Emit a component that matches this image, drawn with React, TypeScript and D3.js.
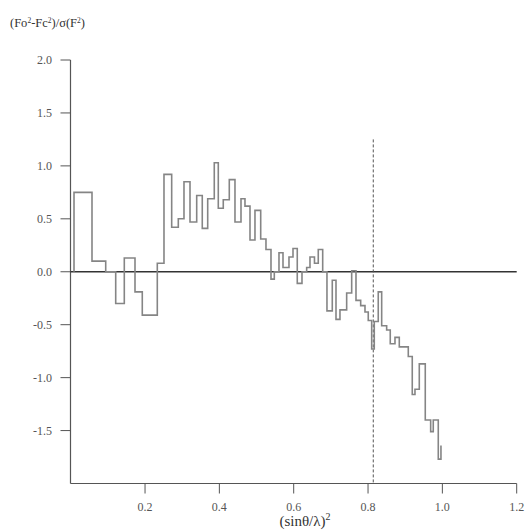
import React from "react";
import * as d3 from "d3";

// bin start positions (sinθ/λ)^2 and step values
const binStart = [
  0.0089, 0.0573, 0.0942, 0.1211, 0.1442, 0.1730, 0.1926, 0.2330, 0.2510, 0.2717,
  0.2895, 0.3048, 0.3210, 0.3390, 0.3540, 0.3686, 0.3863, 0.3971, 0.4105, 0.4267,
  0.4420, 0.4582, 0.4689, 0.4824, 0.4958, 0.5112, 0.5254, 0.5389, 0.5478, 0.5604,
  0.5712, 0.5873, 0.5981, 0.6096, 0.6223, 0.6349, 0.6438, 0.6559, 0.6661, 0.6780,
  0.6895, 0.7038, 0.7138, 0.7245, 0.7425, 0.7560, 0.7676, 0.7802, 0.7918, 0.8006,
  0.8098, 0.8168, 0.8275, 0.8367, 0.8501, 0.8598, 0.8725, 0.8841, 0.9083, 0.9190,
  0.9263, 0.9379, 0.9540, 0.9685, 0.9755, 0.9890,
];
const binValue = [
  0.75, 0.10, 0.00, -0.30, 0.13, -0.19, -0.41, 0.08, 0.92, 0.42,
  0.50, 0.85, 0.47, 0.72, 0.41, 0.69, 1.03, 0.60, 0.68, 0.87,
  0.47, 0.69, 0.62, 0.30, 0.58, 0.31, 0.21, -0.07, 0.00, 0.18,
  0.04, 0.14, 0.22, -0.11, 0.00, 0.04, 0.14, 0.08, 0.21, 0.00,
  -0.37, -0.08, -0.45, -0.36, -0.20, 0.01, -0.27, -0.32, -0.38, -0.46,
  -0.73, -0.47, -0.19, -0.51, -0.55, -0.68, -0.62, -0.71, -0.80, -1.16,
  -1.11, -0.87, -1.40, -1.51, -1.40, -1.77,
];
const lastEdge = 0.9962;
const lastValue = -1.64;
const cutoff = 0.8141;
const cutoffTop = 1.25;

const xTicks = [0.2, 0.4, 0.6, 0.8, 1.0, 1.2];
const yTicks = [2.0, 1.5, 1.0, 0.5, 0.0, -0.5, -1.0, -1.5];

export default function App() {
  const W = 525, H = 531;
  const x = d3.scaleLinear().domain([0, 1.2]).range([70.7, 516.7]);
  const y = d3.scaleLinear().domain([-2, 2]).range([483.5, 60]);

  const pts: [number, number][] = [[binStart[0], 0]];
  binStart.forEach((s, i) => pts.push([s, binValue[i]]));
  pts.push([lastEdge, lastValue]);
  const line = d3
    .line<[number, number]>()
    .x((d) => x(d[0]))
    .y((d) => y(d[1]))
    .curve(d3.curveStepAfter);

  const axisColor = "#555";
  const font = "'Liberation Serif', 'Times New Roman', serif";
  const axisX0 = 70.5;
  const axisY0 = y(-2);

  return (
    <svg
      width={W}
      height={H}
      style={{ position: "absolute", left: 0, top: 0, background: "#fff" }}
      fontFamily={font}
    >
      <rect width={W} height={H} fill="#fff" />
      {/* y title */}
      <text x={10} y={27} fontSize={12.5} fill="#333">
        (Fo<tspan dy={-4} fontSize={7.5}>2</tspan>
        <tspan dy={4}>-Fc</tspan>
        <tspan dy={-4} fontSize={7.5}>2</tspan>
        <tspan dy={4}>)/σ(F</tspan>
        <tspan dy={-4} fontSize={7.5}>2</tspan>
        <tspan dy={4}>)</tspan>
      </text>

      {/* y axis */}
      <line x1={axisX0} x2={axisX0} y1={y(2)} y2={axisY0} stroke={axisColor} strokeWidth={1.2} />
      {yTicks.map((t) => (
        <g key={"y" + t}>
          <line x1={axisX0 - 10} x2={axisX0} y1={y(t)} y2={y(t)} stroke={axisColor} strokeWidth={1} />
          <text x={52} y={y(t)} dy="0.35em" textAnchor="end" fontSize={12} fill="#555">
            {t.toFixed(1)}
          </text>
        </g>
      ))}

      {/* x axis */}
      <line x1={axisX0} x2={x(1.2)} y1={axisY0} y2={axisY0} stroke={axisColor} strokeWidth={1.2} />
      {xTicks.map((t) => (
        <g key={"x" + t}>
          <line x1={x(t)} x2={x(t)} y1={axisY0} y2={axisY0 + 10} stroke={axisColor} strokeWidth={1} />
          <text x={x(t)} y={511} textAnchor="middle" fontSize={12} fill="#555">
            {t.toFixed(1)}
          </text>
        </g>
      ))}
      <text x={305} y={526} textAnchor="middle" fontSize={15} fill="#333">
        (sinθ/λ)<tspan dy={-6} fontSize={10}>2</tspan>
      </text>

      {/* zero line */}
      <line x1={axisX0} x2={x(1.2)} y1={y(0)} y2={y(0)} stroke="#333" strokeWidth={1.3} />

      {/* cutoff dashed line */}
      <line
        x1={x(cutoff)}
        x2={x(cutoff)}
        y1={y(cutoffTop)}
        y2={axisY0}
        stroke="#555"
        strokeWidth={1}
        strokeDasharray="3,2"
      />

      {/* step line */}
      <path d={line(pts) || ""} fill="none" stroke="#858585" strokeWidth={1.6} />
    </svg>
  );
}
